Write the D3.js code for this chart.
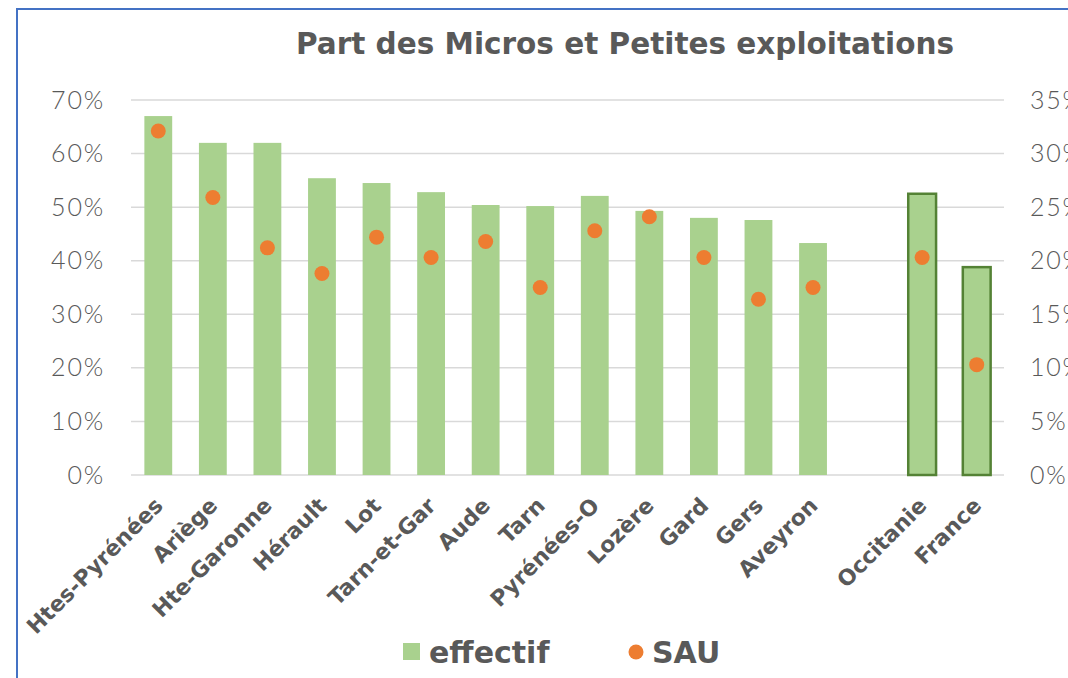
<!DOCTYPE html>
<html>
<head>
<meta charset="utf-8">
<script src="https://cdn.jsdelivr.net/npm/d3@7"></script>
<style>
  body { margin: 0; background: #fff; }
  svg { display: block; }
</style>
</head>
<body>
<div id="chart"></div>
<script>
// Data
const categories = ["Htes-Pyrénées", "Ariège", "Hte-Garonne", "Hérault", "Lot", "Tarn-et-Gar",
  "Aude", "Tarn", "Pyrénées-O", "Lozère", "Gard", "Gers", "Aveyron", "", "Occitanie", "France"];
const effectif = [67.0, 62.0, 62.0, 55.4, 54.5, 52.8, 50.4, 50.2, 52.1, 49.3, 48.0, 47.6, 43.3, null, 52.5, 38.8];
const sau = [32.1, 25.9, 21.2, 18.8, 22.2, 20.3, 21.8, 17.5, 22.8, 24.1, 20.3, 16.4, 17.5, null, 20.3, 10.3];
const highlighted = ["Occitanie", "France"];
const leftTicks = [0, 10, 20, 30, 40, 50, 60, 70];
const rightTicks = [0, 5, 10, 15, 20, 25, 30, 35];

const width = 1068, height = 678;
const margin = {top: 100, right: 64, bottom: 203, left: 131};
const textColor = "#595959";
const boldFont = "'DejaVu Sans', sans-serif";
const lightFont = "Lato, 'Open Sans', sans-serif";

const svg = d3.select("#chart").append("svg")
  .attr("width", width)
  .attr("height", height);

// chart frame (only top and left edges visible in picture)
svg.append("rect")
  .attr("x", 17).attr("y", 9)
  .attr("width", 1100).attr("height", 720)
  .attr("fill", "none")
  .attr("stroke", "#4472C4")
  .attr("stroke-width", 2);

const x = d3.scaleBand()
  .domain(d3.range(categories.length))
  .range([margin.left, width - margin.right])
  .paddingInner(0.49)
  .paddingOuter(0.245);

const yLeft = d3.scaleLinear().domain([0, 70]).range([height - margin.bottom, margin.top]);
const yRight = d3.scaleLinear().domain([0, 35]).range([height - margin.bottom, margin.top]);

// gridlines
svg.append("g")
  .selectAll("line")
  .data(leftTicks)
  .join("line")
  .attr("x1", margin.left)
  .attr("x2", width - margin.right)
  .attr("y1", d => yLeft(d))
  .attr("y2", d => yLeft(d))
  .attr("stroke", "#d9d9d9")
  .attr("stroke-width", 1.5);

// left axis
const axisL = svg.append("g")
  .attr("transform", `translate(${margin.left - 26},0)`)
  .call(d3.axisLeft(yLeft).tickValues(leftTicks).tickFormat(d => d + "%").tickSize(0).tickPadding(0));
axisL.select(".domain").remove();

// right axis
const axisR = svg.append("g")
  .attr("transform", `translate(${width - margin.right + 26},0)`)
  .call(d3.axisRight(yRight).tickValues(rightTicks).tickFormat(d => d + "%").tickSize(0).tickPadding(0));
axisR.select(".domain").remove();

svg.selectAll(".tick text")
  .attr("fill", textColor)
  .style("font-family", lightFont)
  .style("font-weight", 300)
  .style("font-size", "25px")
  .style("letter-spacing", "1.8px");

// bars
const barData = categories.map((c, i) => ({c, i, v: effectif[i], s: sau[i]}));
svg.append("g")
  .selectAll("rect")
  .data(barData.filter(d => d.v !== null))
  .join("rect")
  .attr("x", d => x(d.i))
  .attr("y", d => yLeft(d.v))
  .attr("width", x.bandwidth())
  .attr("height", d => yLeft(0) - yLeft(d.v))
  .attr("fill", "#A9D18E")
  .attr("stroke", d => highlighted.includes(d.c) ? "#548235" : "none")
  .attr("stroke-width", 2.5);

// SAU dots
svg.append("g")
  .selectAll("circle")
  .data(barData.filter(d => d.s !== null))
  .join("circle")
  .attr("cx", d => x(d.i) + x.bandwidth() / 2)
  .attr("cy", d => yRight(d.s))
  .attr("r", 7.5)
  .attr("fill", "#ED7D31");

// category labels
svg.append("g")
  .selectAll("text")
  .data(barData.filter(d => d.c !== ""))
  .join("text")
  .attr("transform", d => `translate(${x(d.i) + x.bandwidth() / 2 + 6},${yLeft(0) + 32}) rotate(-45)`)
  .attr("text-anchor", "end")
  .attr("fill", textColor)
  .style("font-family", boldFont)
  .style("font-weight", 700)
  .style("font-size", "22px")
  .text(d => d.c);

// title
svg.append("text")
  .attr("x", 625)
  .attr("y", 54)
  .attr("text-anchor", "middle")
  .attr("fill", textColor)
  .style("font-family", boldFont)
  .style("font-weight", 700)
  .style("font-size", "29.5px")
  .text("Part des Micros et Petites exploitations");

// legend
const legend = svg.append("g");
legend.append("rect")
  .attr("x", 403).attr("y", 643)
  .attr("width", 17).attr("height", 17)
  .attr("fill", "#A9D18E");
legend.append("text")
  .attr("x", 429).attr("y", 663)
  .attr("fill", textColor)
  .style("font-family", boldFont)
  .style("font-weight", 700)
  .style("font-size", "30px")
  .text("effectif");
legend.append("circle")
  .attr("cx", 636).attr("cy", 652)
  .attr("r", 7.5)
  .attr("fill", "#ED7D31");
legend.append("text")
  .attr("x", 652).attr("y", 663)
  .attr("fill", textColor)
  .style("font-family", boldFont)
  .style("font-weight", 700)
  .style("font-size", "30px")
  .text("SAU");
</script>
</body>
</html>
